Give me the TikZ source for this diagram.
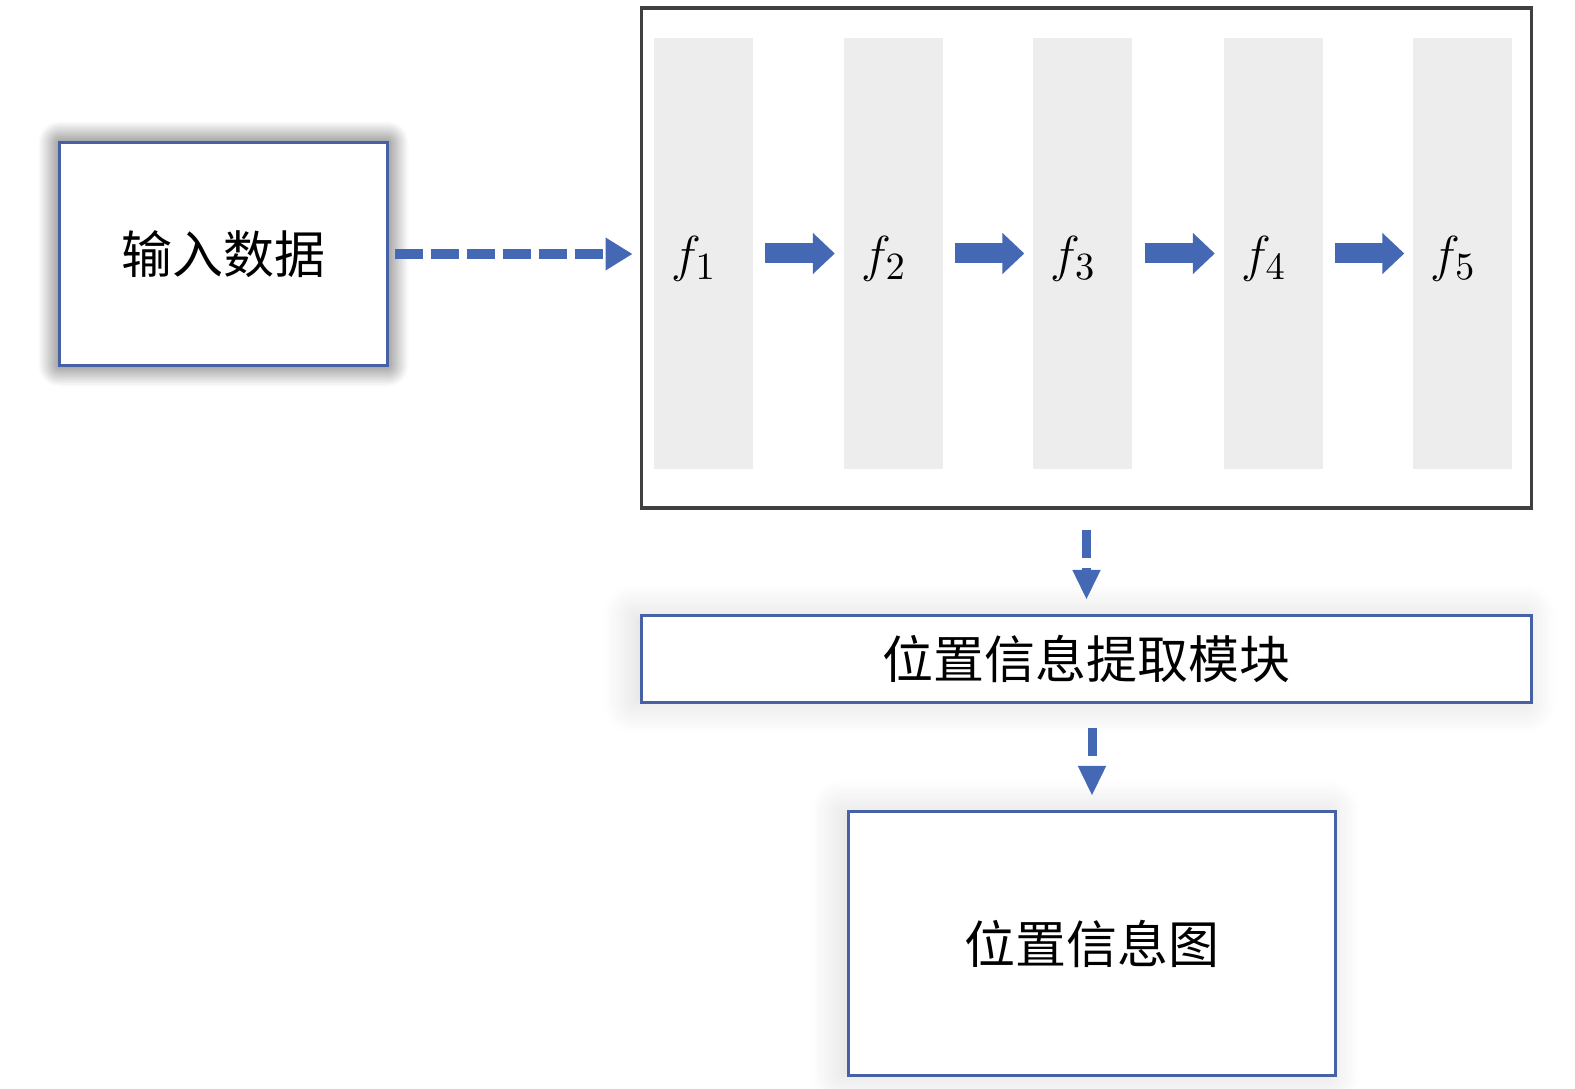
\documentclass[tikz,border=0pt]{standalone}
\usepackage{fontspec}
\usepackage{amsmath}
\newfontfamily\cjk{Noto Sans CJK SC}
\usetikzlibrary{arrows.meta, positioning, shadows.blur}
\tikzset{>=stealth}
\definecolor{boxblue}{RGB}{70,98,164}
\definecolor{arrowblue}{RGB}{69,104,180}
\definecolor{bargray}{RGB}{237,237,237}
\definecolor{framegray}{RGB}{64,64,64}

\begin{document}
\begin{tikzpicture}[
	box/.style={draw=boxblue, line width=0.9pt, fill=white, inner sep=0pt, font=\cjk\fontsize{14.5}{17}\selectfont},
	darkglow/.style={blur shadow={shadow xshift=0pt, shadow yshift=0pt, shadow blur radius=6pt, shadow blur steps=12, shadow opacity=75}},
	softglow/.style={blur shadow={shadow xshift=-2pt, shadow yshift=0pt, shadow blur radius=9pt, shadow blur steps=12, shadow opacity=15}},
	bar/.style={fill=bargray, minimum width=0.99cm, minimum height=4.31cm, inner sep=0pt},
	flabel/.style={font=\fontsize{15}{18}\selectfont, inner sep=0pt},
	flow/.style={arrowblue, line width=0.2cm, -{Triangle[length=0.22cm, width=0.4cm]}, shorten <=0.12cm, shorten >=0.08cm},
	dasharrow/.style={arrowblue, line width=0.1cm, dash pattern=on 0.28cm off 0.08cm, -{Triangle[length=0.27cm, width=0.31cm]}},
	downarrow/.style={arrowblue, line width=0.09cm, dash pattern=on 0.28cm off 0.1cm, -{Triangle[length=0.3cm, width=0.26cm]}}]

	\useasboundingbox (0,0) rectangle (15.75,-10.89);

	\node[box, darkglow, minimum width=3.28cm, minimum height=2.23cm] (input) at (2.235,-2.54) {输入数据};

	\node[draw=framegray, line width=1.1pt, fill=white, minimum width=8.9cm, minimum height=5cm] (big) at (10.865,-2.58) {};
	\node[bar] (f1) at (7.03,-2.535) {};
	\node[bar] (f2) at (8.93,-2.535) {};
	\node[bar] (f3) at (10.825,-2.535) {};
	\node[bar] (f4) at (12.73,-2.535) {};
	\node[bar] (f5) at (14.625,-2.535) {};
	\node[flabel] (L1) at (6.94,-2.59) {$f_1$};
	\node[flabel] (L2) at (8.84,-2.59) {$f_2$};
	\node[flabel] (L3) at (10.735,-2.59) {$f_3$};
	\node[flabel] (L4) at (12.64,-2.59) {$f_4$};
	\node[flabel] (L5) at (14.535,-2.59) {$f_5$};
	\draw [flow] (f1)--(f2);
	\draw [flow] (f2)--(f3);
	\draw [flow] (f3)--(f4);
	\draw [flow] (f4)--(f5);

	\node[box, softglow, minimum width=8.9cm, minimum height=0.87cm] (module) at (10.865,-6.59) {位置信息提取模块};
	\node[box, softglow, minimum width=4.87cm, minimum height=2.64cm] (output) at (10.92,-9.435) {位置信息图};

	\draw [dasharrow, shorten <=0.06cm, shorten >=0.07cm] (input.east)--(input.east -| big.west);
	\draw [downarrow, shorten <=0.2cm, shorten >=0.14cm] (big.south)--(module.north);
	\draw [downarrow, shorten <=0.24cm, shorten >=0.14cm] (module.south -| output.north)--(output.north);

\end{tikzpicture}
\end{document}
